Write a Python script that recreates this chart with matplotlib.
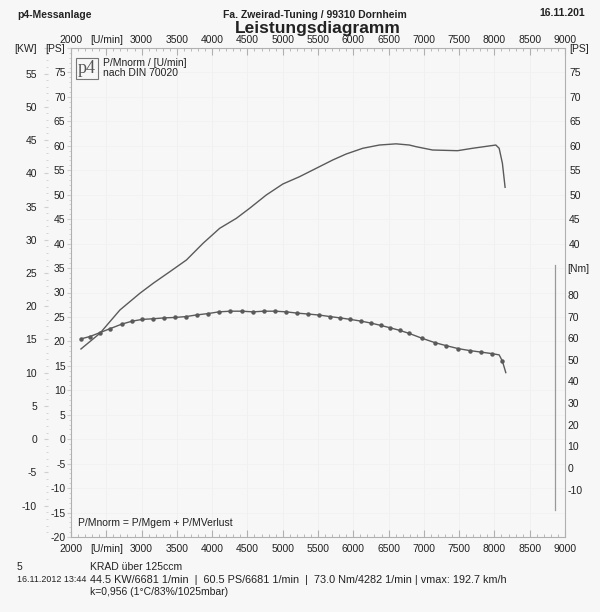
import matplotlib
matplotlib.use("Agg")
import matplotlib.pyplot as plt
from matplotlib.ticker import MultipleLocator

plt.rcParams['font.family'] = ['Liberation Sans', 'DejaVu Sans']

# torque curve (rpm, Nm)
torque_rpm = [2141, 2269, 2410, 2552, 2717, 2867, 3009, 3164, 3319, 3471,
              3626, 3786, 3942, 4097, 4258, 4422, 4578, 4734, 4895, 5050,
              5206, 5356, 5521, 5673, 5814, 5960, 6111, 6252, 6394, 6525,
              6662, 6794, 6973, 7152, 7313, 7487, 7647, 7808, 7963, 8067,
              8113, 8161]
torque_nm = [59.7, 60.8, 62.6, 64.4, 66.5, 67.9, 68.7, 69.0, 69.4, 69.6,
             70.0, 70.8, 71.4, 72.2, 72.5, 72.5, 72.2, 72.5, 72.5, 72.2,
             71.6, 71.2, 70.7, 70.0, 69.4, 68.7, 67.9, 67.0, 65.9, 64.8,
             63.6, 62.2, 60.0, 58.0, 56.6, 55.2, 54.3, 53.6, 52.9, 52.3,
             49.4, 44.1]
# the kink and the end point carry no marker
torque_markers = [i for i in range(len(torque_rpm)) if i not in (39, 41)]

# power curve (rpm, PS)
power_rpm = [2141, 2410, 2693, 2976, 3164, 3400, 3636, 3871, 4107, 4343,
             4531, 4767, 5002, 5238, 5475, 5709, 5899, 6134, 6370, 6606,
             6794, 6889, 7123, 7477, 7689, 8020, 8067, 8113, 8151]
power_ps = [18.45, 21.66, 26.42, 29.84, 31.88, 34.25, 36.65, 40.06, 43.13, 45.17,
            47.22, 49.94, 52.19, 53.68, 55.40, 57.10, 58.32, 59.49, 60.16, 60.40,
            60.16, 59.82, 59.14, 59.00, 59.49, 60.16, 59.49, 56.42, 51.51]

rpm_ticks = list(range(2000, 9001, 500))
rpm_labels = [str(t) for t in rpm_ticks]
rpm_labels[1] = "[U/min]"

ps_ticks = list(range(-20, 81, 5))
ps_labels = [str(t) for t in ps_ticks]
ps_labels[-1] = "[PS]"

ps_right_ticks = list(range(40, 81, 5))
ps_right_labels = [str(t) for t in ps_right_ticks]
ps_right_labels[-1] = "[PS]"

kw_ticks = list(range(-10, 56, 5)) + [80 * 0.7355]
kw_labels = [str(t) for t in range(-10, 56, 5)] + ["[KW]"]

nm_ticks = list(range(-10, 81, 10)) + [92.5]
nm_labels = [str(t) for t in range(-10, 81, 10)] + ["[Nm]"]

txt = '#222222'
curve = '#5a5a5a'
frame = '#b0b0b0'
bg = '#f7f7f7'

fig = plt.figure(figsize=(6, 6.12), dpi=100, facecolor=bg)
ax = fig.add_axes([71/600, 75/612, 494/600, 489/612])
ax.set_facecolor(bg)

ax.set_xlim(2000, 9000)
ax.set_ylim(-20, 80)

# faint scan grid
for r in rpm_ticks[1:-1]:
    ax.axvline(r, color='#efefef', lw=0.6, zorder=0)
for p in ps_ticks[1:-1]:
    ax.axhline(p, color='#f1f1f1', lw=0.5, zorder=0)

ax.plot(power_rpm, power_ps, color=curve, lw=1.0)

# torque lives on its own scale, map it onto the PS axis
def nm2ps(v):
    return v * 0.4423 - 5.89

def ps2nm(v):
    return (v + 5.89) / 0.4423

ax.plot(torque_rpm, [nm2ps(v) for v in torque_nm], color=curve, lw=1.0,
        marker='o', markersize=2.2, markevery=torque_markers)

for s in ax.spines.values():
    s.set_color(frame)
    s.set_linewidth(0.8)
ax.spines['top'].set_linestyle((0, (2, 1)))
ax.spines['bottom'].set_linestyle((0, (2, 1)))

# bottom rpm axis
ax.set_xticks(rpm_ticks, labels=rpm_labels)
ax.xaxis.set_minor_locator(MultipleLocator(100))
ax.tick_params(axis='x', which='both', direction='in', colors=frame,
               labelcolor=txt, labelsize=7.5, pad=5)
ax.tick_params(axis='x', which='major', length=5)
ax.tick_params(axis='x', which='minor', length=2)

# top rpm axis
top = ax.secondary_xaxis('top')
top.set_xticks(rpm_ticks, labels=rpm_labels)
top.xaxis.set_minor_locator(MultipleLocator(100))
top.tick_params(which='both', direction='in', colors=frame,
                labelcolor=txt, labelsize=7.5, pad=2)
top.tick_params(which='major', length=5)
top.tick_params(which='minor', length=2)
top.spines['top'].set_visible(False)

ax.set_yticks(ps_ticks, labels=ps_labels)
ax.yaxis.set_minor_locator(MultipleLocator(1))
ax.tick_params(axis='y', which='both', left=True, direction='out',
               colors='#cfcfcf', labelcolor=txt, labelsize=7.5, pad=1)
ax.tick_params(axis='y', which='major', length=3)
ax.tick_params(axis='y', which='minor', length=1.5)

# right PS labels (upper part only)
ps_r = ax.secondary_yaxis('right')
ps_r.set_yticks(ps_right_ticks, labels=ps_right_labels)
ps_r.tick_params(length=0, pad=3, labelsize=7.5, labelcolor=txt)
ps_r.spines['right'].set_visible(False)

# KW scale on the far left
kw = ax.secondary_yaxis(-23/494, functions=(lambda v: v * 0.7355, lambda v: v / 0.7355))
kw.set_yticks(kw_ticks, labels=kw_labels)
kw.yaxis.set_minor_locator(MultipleLocator(1))
kw.tick_params(which='both', colors='#cfcfcf', labelcolor=txt, labelsize=7.5, pad=5)
kw.tick_params(which='major', length=3)
kw.tick_params(which='minor', length=1.5)
kw.spines['left'].set_visible(False)

# Nm scale inside the right edge
nm = ax.secondary_yaxis(484/494, functions=(ps2nm, nm2ps))
nm.set_yticks(nm_ticks, labels=nm_labels)
nm.tick_params(length=0, pad=9, labelsize=7.5, labelcolor=txt)
nm.spines['right'].set_bounds(-19.5, 94)
nm.spines['right'].set_color('#999999')
nm.spines['right'].set_linewidth(0.9)

# legend box with logo
ax.text(0.0324, 0.976, "p4", transform=ax.transAxes, ha='center', va='top',
        fontsize=13, family=['Liberation Serif', 'DejaVu Serif'], color='#555555',
        bbox=dict(boxstyle='square,pad=0.12', fc='none', ec='#777777', lw=0.8))
ax.text(0.065, 0.979, "P/Mnorm / [U/min]\nnach DIN 70020", transform=ax.transAxes,
        ha='left', va='top', fontsize=7.5, color=txt, linespacing=0.95)
ax.text(0.014, 0.028, "P/Mnorm = P/Mgem + P/MVerlust", transform=ax.transAxes,
        ha='left', va='center', fontsize=7.5, color=txt)

# header
fig.text(17/600, 1 - 15/612, "p4-Messanlage", ha='left', va='center',
         fontsize=7.5, fontweight='bold', color=txt)
fig.text(315/600, 1 - 15/612, "Fa. Zweirad-Tuning / 99310 Dornheim", ha='center',
         va='center', fontsize=7.5, fontweight='bold', color=txt)
fig.text(585/600, 1 - 13/612, "16.11.201", ha='right', va='center',
         fontsize=7.5, fontweight='bold', color=txt)
fig.text(318/600, 1 - 29/612, "Leistungsdiagramm", ha='center', va='center',
         fontsize=12.5, fontweight='bold', color=txt)

# footer
fig.text(17/600, 1 - 567/612, "5", ha='left', va='center', fontsize=7.5, color=txt)
fig.text(90/600, 1 - 567/612, "KRAD über 125ccm", ha='left', va='center',
         fontsize=7.5, color=txt)
fig.text(17/600, 1 - 580/612, "16.11.2012 13:44", ha='left', va='center',
         fontsize=6.4, color=txt)
fig.text(90/600, 1 - 580/612,
         "44.5 KW/6681 1/min  |  60.5 PS/6681 1/min  |  73.0 Nm/4282 1/min | vmax: 192.7 km/h",
         ha='left', va='center', fontsize=7.8, color=txt)
fig.text(90/600, 1 - 592/612, "k=0,956 (1°C/83%/1025mbar)", ha='left', va='center',
         fontsize=7.5, color=txt)

fig.savefig("out.png", dpi=100, facecolor=bg)
